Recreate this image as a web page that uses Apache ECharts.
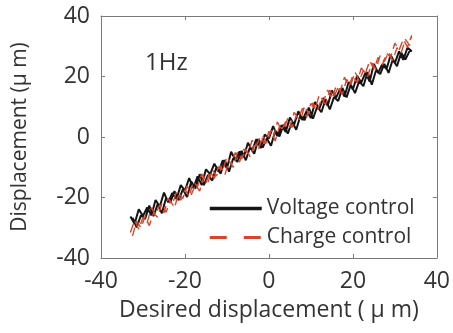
<!DOCTYPE html>
<html><head><meta charset="utf-8">
<script src="https://cdn.jsdelivr.net/npm/echarts@6/dist/echarts.min.js"></script>
<style>html,body{margin:0;padding:0;background:#fff}#c{width:453px;height:333px}</style>
</head><body><div id="c"></div>
<script>
// Desired displacement (µm) – upward sweep samples
const xUp = [-33,-32,-31,-30,-29,-28,-27,-26,-25,-24,-23,-22,-21,-20,-19,-18,-17,-16,-15,-14,-13,-12,-11,-10,-9,-8,-7,-6,-5,-4,-3,-2,-1,0,1,2,3,4,5,6,7,8,9,10,11,12,13,14,15,16,17,18,19,20,21,22,23,24,25,26,27,28,29,30,31,32,33,34];
// Desired displacement (µm) – downward sweep samples (listed ascending)
const xDown = [-32.5,-31.5,-30.5,-29.5,-28.5,-27.5,-26.5,-25.5,-24.5,-23.5,-22.5,-21.5,-20.5,-19.5,-18.5,-17.5,-16.5,-15.5,-14.5,-13.5,-12.5,-11.5,-10.5,-9.5,-8.5,-7.5,-6.5,-5.5,-4.5,-3.5,-2.5,-1.5,-0.5,0.5,1.5,2.5,3.5,4.5,5.5,6.5,7.5,8.5,9.5,10.5,11.5,12.5,13.5,14.5,15.5,16.5,17.5,18.5,19.5,20.5,21.5,22.5,23.5,24.5,25.5,26.5,27.5,28.5,29.5,30.5,31.5,32.5,33.5];

// Voltage control
const voltageUp = [-26.3,-28.7,-23.9,-26.1,-23.3,-25.9,-20.8,-23.0,-18.4,-21.6,-18.5,-20.5,-15.9,-17.7,-13.6,-16.9,-13.0,-15.9,-10.7,-12.3,-8.8,-11.5,-7.7,-10.4,-4.9,-7.6,-4.8,-6.6,-1.9,-4.5,-0.7,-3.7,0.8,-0.5,3.6,0.3,3.9,1.7,6.4,4.1,8.5,5.6,8.7,6.3,11.6,9.4,12.9,10.3,15.4,13.0,16.0,13.4,18.2,15.7,20.2,18.0,21.3,18.3,24.2,21.2,24.1,22.4,27.1,24.4,28.3,25.5,29.5,28.4];
const voltageDown = [-26.7,-29.9,-25.9,-27.1,-22.7,-26.2,-22.2,-25.2,-20.2,-21.7,-17.9,-20.9,-17.3,-19.8,-14.7,-17.0,-12.3,-15.9,-12.5,-14.4,-9.9,-12.1,-7.6,-11.5,-7.0,-8.2,-4.6,-7.7,-3.3,-5.5,-0.7,-3.5,-0.5,-2.9,2.1,0.2,4.1,1.1,5.1,2.4,7.0,5.6,9.7,6.1,10.0,8.2,12.5,9.1,13.2,11.9,16.2,13.1,17.3,14.5,18.4,16.8,21.5,17.3,22.0,20.8,24.2,21.2,25.6,23.4,27.9,25.6,28.4];

// Charge control
const chargeUp = [-31.6,-27.6,-30.5,-26.5,-28.3,-23.4,-25.7,-22.4,-25.1,-20.3,-22.3,-18.1,-20.9,-17.4,-19.7,-14.8,-16.4,-12.2,-15.2,-11.4,-13.7,-9.8,-11.2,-6.4,-9.0,-5.1,-8.3,-4.0,-5.5,-1.1,-3.0,0.3,-2.3,1.9,-0.4,5.0,2.2,5.1,3.1,8.1,6.2,9.5,6.6,11.1,9.3,13.9,11.9,15.5,12.6,16.8,15.3,19.8,16.7,20.3,17.9,22.8,21.1,25.2,22.4,26.3,23.8,27.7,26.4,31.0,28.7,32.3,29.7,33.6];
const chargeDown = [-32.7,-27.8,-30.0,-26.3,-29.3,-25.2,-26.5,-22.0,-24.9,-21.0,-23.4,-18.6,-20.3,-16.1,-19.1,-15.7,-17.9,-13.1,-15.0,-10.8,-12.9,-9.5,-12.5,-8.0,-10.0,-5.0,-7.3,-4.0,-6.5,-2.7,-4.2,0.4,-2.0,2.2,-1.3,3.4,2.4,6.2,3.1,6.9,5.5,10.3,7.6,11.3,8.6,12.5,10.8,15.5,13.2,16.6,14.0,19.0,17.2,21.5,18.5,22.1,19.9,24.5,22.5,26.9,24.9,28.1,25.3,29.5,27.8,32.3,30.3];

const tickValues = [-40,-20,0,20,40];
const seriesNames = ['Voltage control','Charge control'];
const annotation = '1Hz';

function loop(xa, ya, xb, yb) {
  const pts = xa.map((x, i) => [x, ya[i]]);
  const back = xb.map((x, i) => [x, yb[i]]).reverse();
  return pts.concat(back);
}

const FONT = '"Open Sans", "DejaVu Sans", sans-serif';
const TXT = '#333333';
const AX = '#7a7a7a';
const BLACK = '#151515';
const RED = '#d8452a';

const chart = echarts.init(document.getElementById('c'), null, {renderer: 'canvas'});
const baseAxis = {
  type: 'value', min: -40, max: 40, interval: 20,
  axisLine: {show: true, onZero: false, lineStyle: {color: AX, width: 1}},
  axisTick: {show: true, inside: true, length: 4, lineStyle: {color: AX}},
  splitLine: {show: false},
};
chart.setOption({
  animation: false,
  backgroundColor: '#fff',
  grid: {left: 101, right: 13, top: 16, bottom: 75, containLabel: false},
  title: {text: annotation, left: 140, top: 46, textStyle: {fontFamily: FONT, fontSize: 24, fontWeight: 'normal', color: TXT}},
  legend: {
    orient: 'vertical', left: 208, top: 198, padding: 0, itemWidth: 52, itemHeight: 14, itemGap: 8, itemTextGap: 6,
    textStyle: {fontFamily: FONT, fontSize: 21, color: TXT},
    itemStyle: {opacity: 0},
    data: [
      {name: seriesNames[0], lineStyle: {color: BLACK, width: 3.5, type: 'solid'}},
      {name: seriesNames[1], lineStyle: {color: RED, width: 3, type: [17, 17]}}
    ]
  },
  xAxis: [
    Object.assign({}, baseAxis, {
      position: 'bottom',
      name: 'Desired displacement ( \u03bc m)', nameLocation: 'middle', nameGap: 41,
      nameTextStyle: {fontFamily: FONT, fontSize: 23, color: TXT},
      axisLabel: {fontFamily: FONT, fontSize: 23, color: TXT, margin: 12,
        formatter: v => tickValues.includes(v) ? String(v) : ''}
    }),
    Object.assign({}, baseAxis, {position: 'top', axisLabel: {show: false}})
  ],
  yAxis: [
    Object.assign({}, baseAxis, {
      position: 'left',
      name: 'Displacement (\u03bc m)', nameLocation: 'middle', nameGap: 70, nameRotate: 90,
      nameTextStyle: {fontFamily: FONT, fontSize: 21, color: TXT},
      axisLabel: {fontFamily: FONT, fontSize: 23, color: TXT, margin: 11,
        formatter: v => tickValues.includes(v) ? String(v) : ''}
    }),
    Object.assign({}, baseAxis, {position: 'right', axisLabel: {show: false}})
  ],
  series: [
    {name: seriesNames[0], type: 'line', symbol: 'none', data: loop(xUp, voltageUp, xDown, voltageDown),
     lineStyle: {color: BLACK, width: 2}, itemStyle: {color: BLACK}},
    {name: seriesNames[1], type: 'line', symbol: 'none', data: loop(xUp, chargeUp, xDown, chargeDown),
     lineStyle: {color: RED, width: 1.4, type: [9, 5]}, itemStyle: {color: RED}}
  ]
});
</script></body></html>
